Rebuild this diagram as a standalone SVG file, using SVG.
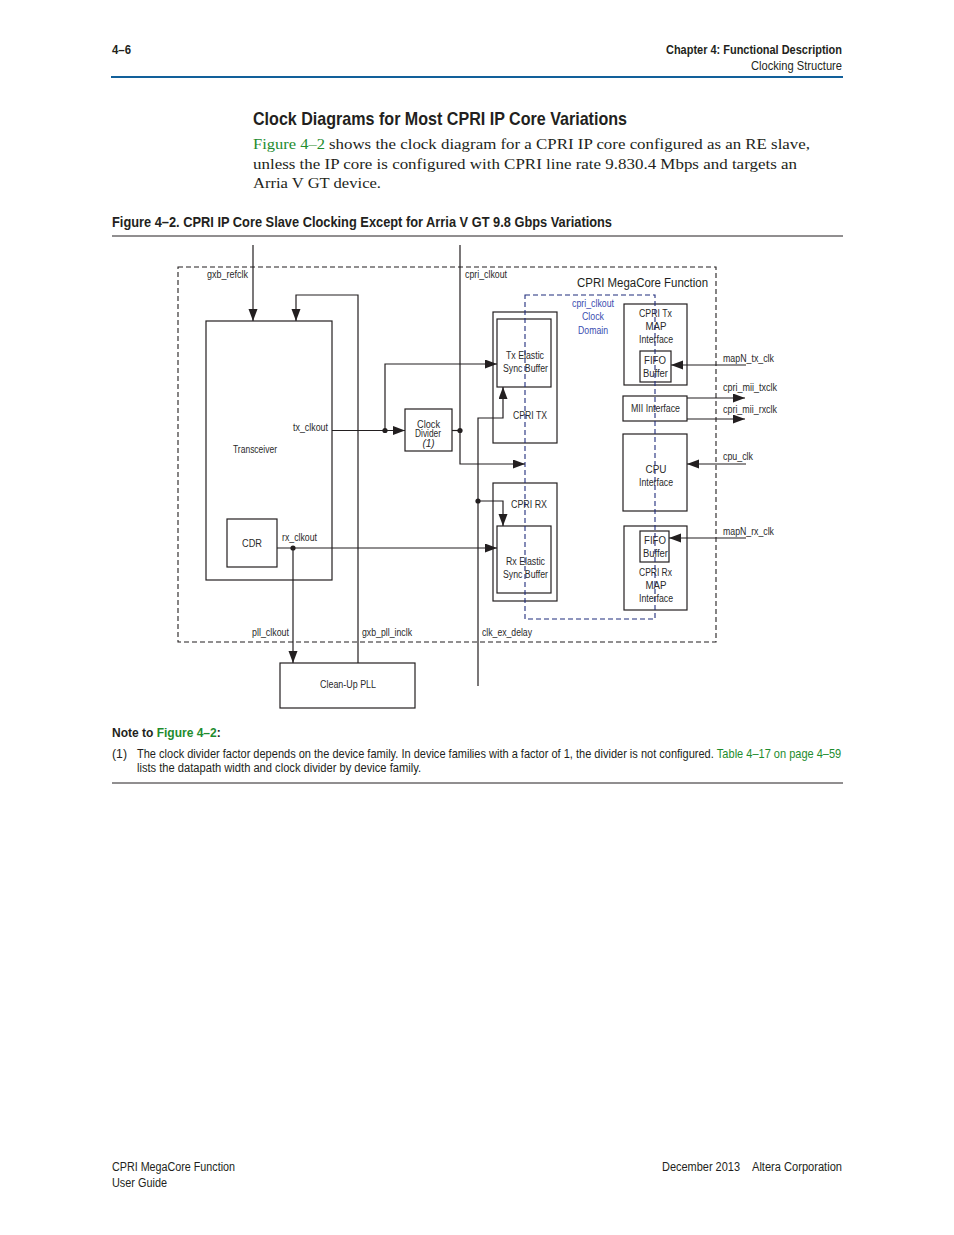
<svg xmlns="http://www.w3.org/2000/svg" width="954" height="1235" viewBox="0 0 954 1235">
<style>
.hb{font-family:"Liberation Sans",Arial,sans-serif;font-weight:bold;fill:#231f20}
.hr{font-family:"Liberation Sans",Arial,sans-serif;fill:#231f20}
.pr{font-family:"Liberation Serif","Times New Roman",serif;font-size:15px;fill:#231f20}
.gr{fill:#1e8c2e}
.lb{font-family:"Liberation Sans",Arial,sans-serif;font-size:10px;fill:#2a2a2a}
.bl{fill:#3a4db0}
.mid{text-anchor:middle}
.box{fill:none;stroke:#231f20;stroke-width:1.2}
.wire{fill:none;stroke:#231f20;stroke-width:1.2}
.arr{marker-end:url(#ah)}
.dash{fill:none;stroke:#231f20;stroke-width:1.1;stroke-dasharray:5,3}
.bdash{fill:none;stroke:#1f2c7c;stroke-width:1.1;stroke-dasharray:5,3}
.dot{fill:#231f20}
</style>
<defs>
<marker id="ah" markerUnits="userSpaceOnUse" markerWidth="13" markerHeight="10" refX="12" refY="4.5" orient="auto">
<path d="M0,0 L12,4.5 L0,9 z" fill="#231f20"/>
</marker>
</defs>
<rect width="954" height="1235" fill="#ffffff"/>

<!-- header -->
<g id="header">
<text class="hb" x="112" y="54" font-size="12" textLength="19" lengthAdjust="spacingAndGlyphs">4–6</text>
<text class="hb" x="666" y="54" font-size="12" textLength="176" lengthAdjust="spacingAndGlyphs">Chapter 4:  Functional Description</text>
<text class="hr" x="751" y="70" font-size="12" textLength="91" lengthAdjust="spacingAndGlyphs">Clocking Structure</text>
<line x1="111" y1="77" x2="843" y2="77" stroke="#12609a" stroke-width="2"/>
</g>

<g id="intro">
<text class="hb" x="253" y="124.5" font-size="18.5" textLength="374" lengthAdjust="spacingAndGlyphs">Clock Diagrams for Most CPRI IP Core Variations</text>
<text class="pr gr" x="253" y="149" textLength="72" lengthAdjust="spacingAndGlyphs">Figure 4–2</text>
<text class="pr" x="329" y="149" textLength="481" lengthAdjust="spacingAndGlyphs">shows the clock diagram for a CPRI IP core configured as an RE slave,</text>
<text class="pr" x="253" y="168.5" textLength="544" lengthAdjust="spacingAndGlyphs">unless the IP core is configured with CPRI line rate 9.830.4 Mbps and targets an</text>
<text class="pr" x="253" y="188" textLength="128" lengthAdjust="spacingAndGlyphs">Arria V GT device.</text>
<text class="hb" x="112" y="227" font-size="14" textLength="500" lengthAdjust="spacingAndGlyphs">Figure 4–2.  CPRI IP Core Slave Clocking Except for Arria V GT 9.8 Gbps Variations</text>
<line x1="112" y1="236" x2="843" y2="236" stroke="#231f20" stroke-width="1"/>
</g>

<!-- diagram frames -->
<g id="megacore">
<rect class="dash" x="178" y="267" width="538" height="375"/>
<text class="hr" x="577" y="286.5" font-size="12" textLength="131" lengthAdjust="spacingAndGlyphs">CPRI MegaCore Function</text>
</g>

<g id="transceiver">
<rect class="box" x="206" y="321" width="126" height="259"/>
<text class="lb mid" x="255" y="452.5" textLength="44" lengthAdjust="spacingAndGlyphs">Transceiver</text>
</g>
<g id="cdr">
<rect class="box" x="227" y="519" width="50" height="48"/>
<text class="lb mid" x="252" y="546.5" textLength="20" lengthAdjust="spacingAndGlyphs">CDR</text>
</g>
<g id="cleanup-pll">
<rect class="box" x="280" y="663" width="135" height="45"/>
<text class="lb mid" x="348" y="688" textLength="56" lengthAdjust="spacingAndGlyphs">Clean-Up PLL</text>
</g>
<g id="clock-divider">
<rect class="box" x="405" y="409" width="47" height="42"/>
<text class="lb mid" x="428.5" y="427.5" textLength="23" lengthAdjust="spacingAndGlyphs">Clock</text>
<text class="lb mid" x="428" y="436.5" textLength="26" lengthAdjust="spacingAndGlyphs">Divider</text>
<text class="lb mid gr" x="428.5" y="446.5" font-style="italic">(1)</text>
</g>
<g id="cpri-tx">
<rect class="box" x="493" y="312" width="64" height="131"/>
<text class="lb mid" x="530" y="418.5" textLength="34" lengthAdjust="spacingAndGlyphs">CPRI TX</text>
</g>
<g id="tx-elastic">
<rect class="box" x="497" y="319" width="54" height="68"/>
<text class="lb mid" x="525" y="359" textLength="38" lengthAdjust="spacingAndGlyphs">Tx Elastic</text>
<text class="lb mid" x="525.5" y="372" textLength="45" lengthAdjust="spacingAndGlyphs">Sync Buffer</text>
</g>
<g id="cpri-rx">
<rect class="box" x="493" y="483" width="64" height="118"/>
<text class="lb mid" x="529" y="507.5" textLength="36" lengthAdjust="spacingAndGlyphs">CPRI RX</text>
</g>
<g id="rx-elastic">
<rect class="box" x="497" y="526" width="54" height="67"/>
<text class="lb mid" x="525.5" y="564.5" textLength="39" lengthAdjust="spacingAndGlyphs">Rx Elastic</text>
<text class="lb mid" x="525.5" y="577.5" textLength="45" lengthAdjust="spacingAndGlyphs">Sync Buffer</text>
</g>
<g id="tx-map">
<rect class="box" x="624" y="304" width="63" height="81"/>
<text class="lb mid" x="655.5" y="316.5" textLength="33" lengthAdjust="spacingAndGlyphs">CPRI Tx</text>
<text class="lb mid" x="656" y="329.5" textLength="21" lengthAdjust="spacingAndGlyphs">MAP</text>
<text class="lb mid" x="656" y="342.5" textLength="34" lengthAdjust="spacingAndGlyphs">Interface</text>
</g>
<g id="tx-fifo">
<rect class="box" x="640" y="351" width="31" height="31"/>
<text class="lb mid" x="655" y="363.5" textLength="22" lengthAdjust="spacingAndGlyphs">FIFO</text>
<text class="lb mid" x="655.5" y="376.5" textLength="25" lengthAdjust="spacingAndGlyphs">Buffer</text>
</g>
<g id="mii">
<rect class="box" x="623" y="396" width="64" height="25"/>
<text class="lb mid" x="655.5" y="411.5" textLength="49" lengthAdjust="spacingAndGlyphs">MII Interface</text>
</g>
<g id="cpu">
<rect class="box" x="623" y="434" width="64" height="77"/>
<text class="lb mid" x="656" y="472.5" textLength="21" lengthAdjust="spacingAndGlyphs">CPU</text>
<text class="lb mid" x="656" y="485.5" textLength="34" lengthAdjust="spacingAndGlyphs">Interface</text>
</g>
<g id="rx-map">
<rect class="box" x="624" y="526" width="63" height="84"/>
<text class="lb mid" x="655.5" y="575.5" textLength="33" lengthAdjust="spacingAndGlyphs">CPRI Rx</text>
<text class="lb mid" x="656" y="588.5" textLength="21" lengthAdjust="spacingAndGlyphs">MAP</text>
<text class="lb mid" x="656" y="601.5" textLength="34" lengthAdjust="spacingAndGlyphs">Interface</text>
</g>
<g id="rx-fifo">
<rect class="box" x="640" y="531" width="29" height="31"/>
<text class="lb mid" x="655" y="543.5" textLength="22" lengthAdjust="spacingAndGlyphs">FIFO</text>
<text class="lb mid" x="655.5" y="556.5" textLength="25" lengthAdjust="spacingAndGlyphs">Buffer</text>
</g>

<g id="clock-domain">
<rect class="bdash" x="525" y="295" width="130" height="324"/>
<text class="lb mid bl" x="593" y="306.5" textLength="42" lengthAdjust="spacingAndGlyphs">cpri_clkout</text>
<text class="lb mid bl" x="593" y="320" textLength="22" lengthAdjust="spacingAndGlyphs">Clock</text>
<text class="lb mid bl" x="593" y="333.5" textLength="30" lengthAdjust="spacingAndGlyphs">Domain</text>
</g>

<!-- connectors -->
<g id="connectors">
<path class="wire arr" d="M253,245 V321"/>
<path class="wire arr" d="M358,663 V295 H296 V321"/>
<path class="wire arr" d="M332,430.5 H405"/>
<path class="wire arr" d="M385,430.5 V364 H497"/>
<path class="wire" d="M452,430.5 H460"/>
<path class="wire arr" d="M460,245 V464 H525"/>
<path class="wire arr" d="M478,686 V418 H503 V387"/>
<path class="wire arr" d="M478,501 H503 V526"/>
<path class="wire arr" d="M277,548 H497"/>
<path class="wire arr" d="M293,548 V663"/>
<path class="wire arr" d="M746,365 H671"/>
<path class="wire arr" d="M687,398 H745"/>
<path class="wire arr" d="M687,419 H745"/>
<path class="wire arr" d="M746,464 H687"/>
<path class="wire arr" d="M746,538 H669"/>
<circle class="dot" cx="385" cy="430.5" r="2.6"/>
<circle class="dot" cx="460" cy="430.5" r="2.6"/>
<circle class="dot" cx="478" cy="501" r="2.6"/>
<circle class="dot" cx="293" cy="548" r="2.6"/>
<text class="lb" x="207" y="277.5" textLength="41" lengthAdjust="spacingAndGlyphs">gxb_refclk</text>
<text class="lb" x="465" y="277.5" textLength="42" lengthAdjust="spacingAndGlyphs">cpri_clkout</text>
<text class="lb" x="293" y="430.5" textLength="35" lengthAdjust="spacingAndGlyphs">tx_clkout</text>
<text class="lb" x="282" y="540.5" textLength="35" lengthAdjust="spacingAndGlyphs">rx_clkout</text>
<text class="lb" x="252" y="636" textLength="37" lengthAdjust="spacingAndGlyphs">pll_clkout</text>
<text class="lb" x="362" y="636" textLength="50" lengthAdjust="spacingAndGlyphs">gxb_pll_inclk</text>
<text class="lb" x="482" y="635.5" textLength="50" lengthAdjust="spacingAndGlyphs">clk_ex_delay</text>
<text class="lb" x="723" y="361.5" textLength="51" lengthAdjust="spacingAndGlyphs">mapN_tx_clk</text>
<text class="lb" x="723" y="390.5" textLength="54" lengthAdjust="spacingAndGlyphs">cpri_mii_txclk</text>
<text class="lb" x="723" y="412.5" textLength="54" lengthAdjust="spacingAndGlyphs">cpri_mii_rxclk</text>
<text class="lb" x="723" y="459.5" textLength="30" lengthAdjust="spacingAndGlyphs">cpu_clk</text>
<text class="lb" x="723" y="534.5" textLength="51" lengthAdjust="spacingAndGlyphs">mapN_rx_clk</text>
</g>

<!-- notes -->
<g id="notes">
<text class="hb" x="112" y="737" font-size="12">Note to <tspan class="gr">Figure 4–2</tspan>:</text>
<text class="hr" x="112" y="758" font-size="12" textLength="15" lengthAdjust="spacingAndGlyphs">(1)</text>
<text class="hr" font-size="12" transform="translate(137,758) scale(0.919,1)">The clock divider factor depends on the device family. In device families with a factor of 1, the divider is not configured. <tspan class="gr">Table 4–17 on page 4–59</tspan></text>
<text class="hr" x="137" y="772" font-size="12" textLength="284" lengthAdjust="spacingAndGlyphs">lists the datapath width and clock divider by device family.</text>
<line x1="112" y1="783" x2="843" y2="783" stroke="#231f20" stroke-width="1"/>
</g>

<g id="footer">
<text class="hr" x="112" y="1171" font-size="12" textLength="123" lengthAdjust="spacingAndGlyphs">CPRI MegaCore Function</text>
<text class="hr" x="112" y="1187" font-size="12" textLength="55" lengthAdjust="spacingAndGlyphs">User Guide</text>
<text class="hr" x="662" y="1171" font-size="12" textLength="78" lengthAdjust="spacingAndGlyphs">December 2013</text>
<text class="hr" x="752" y="1171" font-size="12" textLength="90" lengthAdjust="spacingAndGlyphs">Altera Corporation</text>
</g>
</svg>
